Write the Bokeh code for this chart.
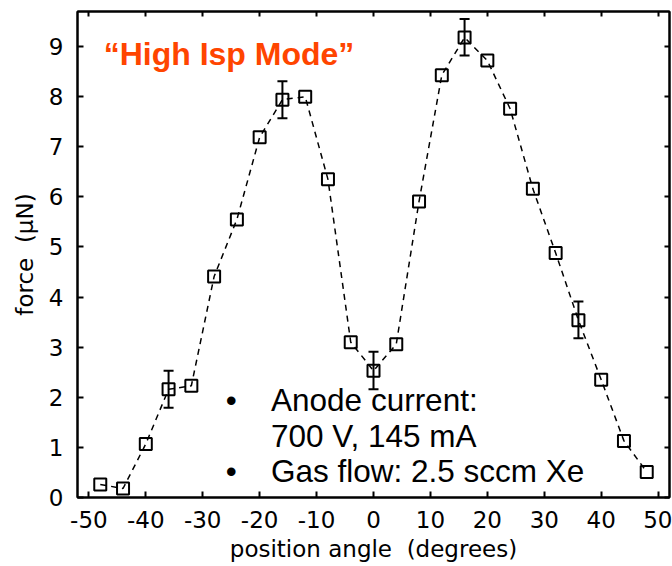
from bokeh.plotting import figure
from bokeh.models import Range1d, LinearAxis, FixedTicker, Whisker, ColumnDataSource, Label, TeeHead
from bokeh.embed import file_html
from bokeh.resources import INLINE

# ---- data ----
angle = [-48, -44, -40, -36, -32, -28, -24, -20, -16, -12, -8, -4, 0, 4, 8, 12, 16, 20, 24, 28, 32, 36, 40, 44, 48]
force = [0.26, 0.18, 1.07, 2.16, 2.23, 4.41, 5.55, 7.19, 7.94, 8.00, 6.35, 3.10, 2.53, 3.06, 5.91,
         8.43, 9.18, 8.72, 7.76, 6.16, 4.88, 3.54, 2.35, 1.13, 0.51]
err_angle = [-36, -16, 0, 16, 36]
err_low = [1.79, 7.57, 2.16, 8.82, 3.18]
err_high = [2.53, 8.31, 2.91, 9.55, 3.91]
x_ticks = [-50, -40, -30, -20, -10, 0, 10, 20, 30, 40, 50]
y_ticks = [0, 1, 2, 3, 4, 5, 6, 7, 8, 9]

title_text = "\u201cHigh Isp Mode\u201d"
note_lines = ["Anode current:", "700 V, 145 mA", "Gas flow: 2.5 sccm Xe"]
note_y = [1.94, 1.22, 0.525]
bullet_y = [1.94, 0.525]

p = figure(width=672, height=566, output_backend="svg", toolbar_location=None,
           x_range=Range1d(-52, 52), y_range=Range1d(0, 9.7),
           min_border_left=77, min_border_right=3, min_border_top=11, min_border_bottom=69)
p.grid.visible = False
p.outline_line_color = "black"
p.outline_line_width = 2
p.background_fill_color = "white"
p.border_fill_color = "white"

FONT = "DejaVu Sans"
for ax in (p.xaxis[0], p.yaxis[0]):
    ax.axis_line_width = 2
    ax.major_tick_in = 6
    ax.major_tick_out = 0
    ax.major_tick_line_width = 2
    ax.minor_tick_line_color = None
    ax.major_label_text_font = FONT
    ax.major_label_text_font_size = "23px"
    ax.major_label_text_color = "black"
    ax.axis_label_text_font = FONT
    ax.axis_label_text_font_size = "23px"
    ax.axis_label_text_font_style = "normal"
    ax.axis_label_text_color = "black"

p.xaxis[0].ticker = FixedTicker(ticks=x_ticks)
p.yaxis[0].ticker = FixedTicker(ticks=y_ticks)
p.xaxis[0].major_label_overrides = {t: str(t) for t in x_ticks}
p.xaxis[0].axis_label = "position angle\u00a0 (degrees)"
p.yaxis[0].axis_label = "force\u00a0 (\u03bcN)"
p.xaxis[0].major_label_standoff = 13
p.xaxis[0].axis_label_standoff = 5
p.yaxis[0].major_label_standoff = 14
p.yaxis[0].axis_label_standoff = 8

top = LinearAxis(ticker=FixedTicker(ticks=x_ticks), major_label_text_font_size="0px",
                 major_label_text_color=None,
                 major_tick_in=5, major_tick_out=0, minor_tick_line_color=None,
                 major_tick_line_width=2, axis_line_width=2, major_label_standoff=0)
right = LinearAxis(ticker=FixedTicker(ticks=y_ticks), major_label_text_font_size="0px",
                   major_label_text_color=None,
                   major_tick_in=5, major_tick_out=0, minor_tick_line_color=None,
                   major_tick_line_width=2, axis_line_width=2, major_label_standoff=0)
p.add_layout(top, "above")
p.add_layout(right, "right")

src = ColumnDataSource(dict(x=angle, y=force))
p.line("x", "y", source=src, line_color="black", line_width=1.5, line_dash="6 5")
p.scatter("x", "y", source=src, marker="square", size=12, fill_alpha=0,
          line_color="black", line_width=2)

esrc = ColumnDataSource(dict(x=err_angle, lo=err_low, hi=err_high))
w = Whisker(base="x", lower="lo", upper="hi", source=esrc, line_color="black", line_width=2,
            lower_head=TeeHead(size=10, line_width=2, line_color="black"),
            upper_head=TeeHead(size=10, line_width=2, line_color="black"))
p.add_layout(w)

p.add_layout(Label(x=-47.4, y=8.86, text=title_text, text_font="Liberation Sans",
                   text_font_style="bold", text_font_size="32px", text_color="#ff4500",
                   text_baseline="alphabetic"))
for t, yy in zip(note_lines, note_y):
    p.add_layout(Label(x=-18.0, y=yy, text=t, text_font="Liberation Sans",
                       text_font_size="31.5px", text_color="black", text_baseline="alphabetic"))
for yy in bullet_y:
    p.add_layout(Label(x=-25.0, y=yy, text="\u2022", text_font="Liberation Sans",
                       text_font_size="31.5px", text_color="black", text_align="center",
                       text_baseline="alphabetic"))

open("out.html", "w").write(file_html(p, INLINE))
